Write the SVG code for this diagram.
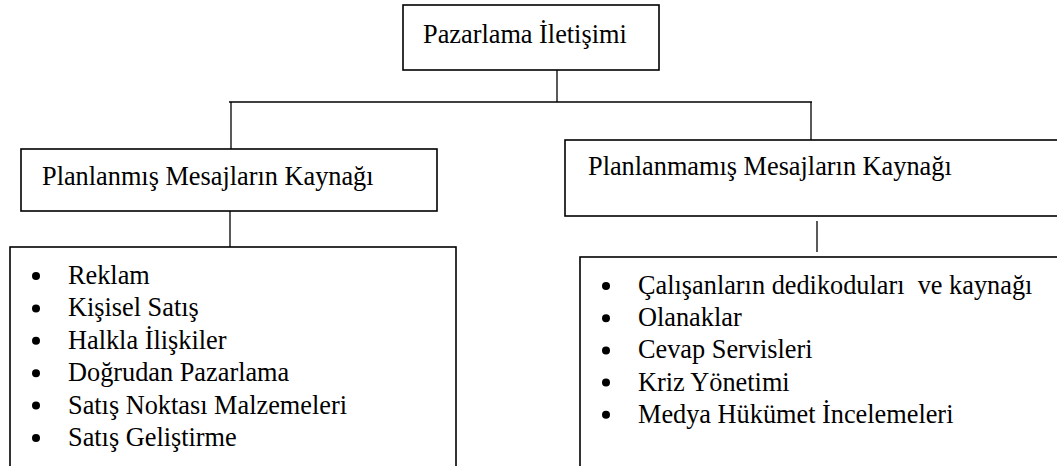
<svg xmlns="http://www.w3.org/2000/svg" width="1057" height="466" viewBox="0 0 1057 466">
<style>
.box{fill:#fff;stroke:#000;stroke-width:1.6}
.ln{stroke:#000;stroke-width:1.3;fill:none}
.t{font-size:26.3px;fill:#000;white-space:pre}
.b{fill:#000}
</style>
<rect width="1057" height="466" fill="#fff"/>
<g id="connectors">
<line class="ln" x1="557" y1="70" x2="557" y2="102"/>
<line class="ln" x1="229" y1="102" x2="812" y2="102"/>
<line class="ln" x1="231" y1="102" x2="231" y2="149"/>
<line class="ln" x1="811" y1="102" x2="811" y2="140"/>
<line class="ln" x1="230" y1="211" x2="230" y2="247"/>
<line class="ln" x1="817" y1="221" x2="817" y2="252"/>
</g>
<g font-family="Liberation Serif, DejaVu Serif, serif">
<g id="root">
<rect class="box" x="403" y="5" width="256" height="65"/>
<text class="t" x="423" y="43">Pazarlama İletişimi</text>
</g>
<g id="planned">
<rect class="box" x="21" y="149" width="416" height="62"/>
<text class="t" x="42" y="185">Planlanmış Mesajların Kaynağı</text>
</g>
<g id="unplanned">
<rect class="box" x="565" y="140" width="520" height="76"/>
<text class="t" x="588" y="175">Planlanmamış Mesajların Kaynağı</text>
</g>
<g id="planned-list">
<rect class="box" x="10" y="247" width="446" height="240"/>
<circle class="b" cx="36" cy="276" r="4"/><text class="t" x="68" y="284">Reklam</text>
<circle class="b" cx="36" cy="308.4" r="4"/><text class="t" x="68" y="316.4">Kişisel Satış</text>
<circle class="b" cx="36" cy="340.8" r="4"/><text class="t" x="68" y="348.8">Halkla İlişkiler</text>
<circle class="b" cx="36" cy="373.2" r="4"/><text class="t" x="68" y="381.2">Doğrudan Pazarlama</text>
<circle class="b" cx="36" cy="405.6" r="4"/><text class="t" x="68" y="413.6">Satış Noktası Malzemeleri</text>
<circle class="b" cx="36" cy="438" r="4"/><text class="t" x="68" y="446">Satış Geliştirme</text>
</g>
<g id="unplanned-list">
<rect class="box" x="580" y="257" width="520" height="240"/>
<circle class="b" cx="606" cy="286" r="4"/><text class="t" x="638" y="294">Çalışanların dedikoduları  ve kaynağı</text>
<circle class="b" cx="606" cy="318.2" r="4"/><text class="t" x="638" y="326.2">Olanaklar</text>
<circle class="b" cx="606" cy="350.4" r="4"/><text class="t" x="638" y="358.4">Cevap Servisleri</text>
<circle class="b" cx="606" cy="382.6" r="4"/><text class="t" x="638" y="390.6">Kriz Yönetimi</text>
<circle class="b" cx="606" cy="414.8" r="4"/><text class="t" x="638" y="422.8">Medya Hükümet İncelemeleri</text>
</g>
</g>
</svg>
